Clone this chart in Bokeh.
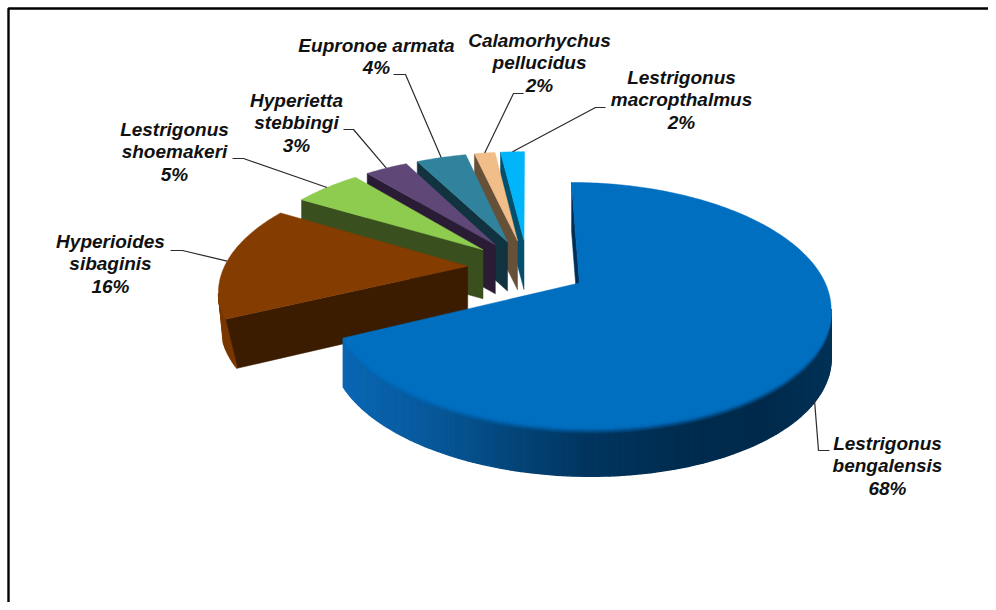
import math
from bokeh.plotting import figure
from bokeh.models import Range1d
from bokeh.core.properties import value
from bokeh.embed import file_html
from bokeh.resources import INLINE

# ---- chart data -------------------------------------------------------
species = ["Lestrigonus bengalensis", "Hyperioides sibaginis", "Lestrigonus shoemakeri",
           "Hyperietta stebbingi", "Eupronoe armata", "Calamorhychus pellucidus",
           "Lestrigonus macropthalmus"]
label_lines = [["Lestrigonus", "bengalensis"], ["Hyperioides", "sibaginis"],
               ["Lestrigonus", "shoemakeri"], ["Hyperietta", "stebbingi"],
               ["Eupronoe armata"], ["Calamorhychus", "pellucidus"],
               ["Lestrigonus", "macropthalmus"]]
# shares; the printed labels are these values rounded
percent = [67.94, 15.55, 5.4, 3.45, 4.05, 1.67, 1.94]

# ---- styles / layout ---------------------------------------------------
top_col = ["#006fc0", "#843c00", "#8dcc4f", "#5f4878", "#31829c", "#f1bd88", "#00b5fa"]
wall_col = ["#00305a", "#3b1c00", "#3a4f1e", "#2a1c35", "#11333f", "#665038", "#034f6c"]
radius_factor = [1.0, 1.015, 1.0, 1.0, 1.0, 1.0, 1.0]
blue_stops = [(345, "#0a66b2"), (420, "#085a9e"), (500, "#04487e"), (580, "#013661"),
              (680, "#002c4f"), (760, "#002a4b"), (835, "#003257")]
label_cx = [887, 110, 174, 296, 376, 539, 681]
label_cy = [443, 241, 129, 100, 45, 40, 77]
line_h = 22.4
# label-side leader points (from the label outward)
leader_start = [[(829, 450), (818, 450)], [(170, 250), (182, 250)], [(232, 158), (243, 158)],
                [(343, 129), (353, 129)], [(393, 74), (405, 74)], [(523, 93), (513, 93)],
                [(605, 107), (595, 107)]]

CX, CY, R, K, D, EXPL, T = 527.0, 267.0, 240.0, 113.0, 0.175, 0.25, 49.0


def proj(U, V):
    s = 1.0 / (1.0 - D * V)
    return CX + R * U * s, CY + K * V * s


def rim_point(th, mid, f=1.0):
    U = EXPL * math.sin(mid) + f * math.sin(th)
    V = -EXPL * math.cos(mid) - f * math.cos(th)
    return proj(U, V)


def hex2rgb(h):
    return tuple(int(h[i:i + 2], 16) for i in (1, 3, 5))


def blend(a, b, f):
    ra, rb = hex2rgb(a), hex2rgb(b)
    return "#%02x%02x%02x" % tuple(round(x + (y - x) * f) for x, y in zip(ra, rb))


def blue_side(x):
    if x <= blue_stops[0][0]:
        return blue_stops[0][1]
    for (x0, c0), (x1, c1) in zip(blue_stops, blue_stops[1:]):
        if x <= x1:
            return blend(c0, c1, (x - x0) / (x1 - x0))
    return blue_stops[-1][1]


p = figure(width=988, height=602, x_range=Range1d(0, 988), y_range=Range1d(602, 0),
           toolbar_location=None, output_backend="svg", min_border=0)
p.axis.visible = False
p.grid.visible = False
p.outline_line_color = None
p.background_fill_color = "white"

# frame: top and left rules only
p.line([8, 8, 988], [602, 8, 8], line_color="black", line_width=2.4)

# slice angular limits
starts, acc = [], 0.0
for v in percent:
    starts.append(acc)
    acc += v
total = acc

# paint back to front: smallest back slices first, blue last
order = [6, 5, 4, 3, 2, 1, 0]
ends_pts = {}
for i in order:
    a0 = starts[i] / total * 2 * math.pi
    a1 = (starts[i] + percent[i]) / total * 2 * math.pi
    mid = (a0 + a1) / 2
    n = max(2, int(math.degrees(a1 - a0)))
    ths = [a0 + (a1 - a0) * j / n for j in range(n + 1)]
    ax, ay = proj(EXPL * math.sin(mid), -EXPL * math.cos(mid))
    arc = [rim_point(t, mid, radius_factor[i]) for t in ths]
    # rounding of the lower corner on the large side slice
    round_dx = 12.0 if i == 1 else 0.0
    # side wall along the starting edge of the slice
    sx, sy = arc[0]
    p.patch([ax, sx, sx + round_dx, ax], [ay, sy, sy + T, ay + T],
            fill_color=wall_col[i], line_color=wall_col[i], line_width=0.5)
    # outer rim: only the part of the arc that faces the viewer
    xs, ys, cs = [], [], []
    for j, ((x0, y0), (x1, y1)) in enumerate(zip(arc, arc[1:])):
        if x1 >= x0:
            continue
        xm = (x0 + x1) / 2
        c = blue_side(xm) if i == 0 else blend(top_col[i], wall_col[i], 0.15)
        xs.append([x0, x1, x1, x0])
        ys.append([y0, y1, y1 + T, y0 + T])
        cs.append(c)
    if i == 1:
        # rim of the brown slice: from its tip to its leftmost point, tapering inward
        xs, ys, cs = [], [], []
        jmin = min(range(len(arc)), key=lambda q: arc[q][0])
        for j in range(jmin):
            x0, y0 = arc[j]
            x1, y1 = arc[j + 1]
            d0 = round_dx * (0.4 + 0.6 * (1 - j / jmin))
            d1 = round_dx * (0.4 + 0.6 * (1 - (j + 1) / jmin))
            xs.append([x0, x1, x1 + d1, x0 + d0])
            ys.append([y0, y1, y1 + T, y0 + T])
            cs.append(blend(top_col[1], wall_col[1], 0.15))
    if xs:
        p.patches(xs, ys, fill_color=cs, line_color=cs, line_width=1.4)
    # soft bevel between rim and top face of the big slice
    if i == 0:
        bx, by, bc = [], [], []
        for step in range(5, -1, -1):
            for (x0, y0), (x1, y1) in zip(arc, arc[1:]):
                if x1 >= x0:
                    continue
                xm = (x0 + x1) / 2
                c = blend(top_col[0], blue_side(xm), step / 6)
                bx.append([x0, x1, x1, x0])
                by.append([y0 + step, y1 + step, y1 + step + 1.2, y0 + step + 1.2])
                bc.append(c)
        p.patches(bx, by, fill_color=bc, line_color=bc, line_width=0.5)
    # top face
    p.patch([ax] + [q[0] for q in arc], [ay] + [q[1] for q in arc],
            fill_color=top_col[i], line_color=top_col[i], line_width=0.5)
    # leader end: on the outer edge at the slice's mid angle
    ex, ey = rim_point(mid, mid, radius_factor[i])
    ends_pts[i] = (ex, ey + (T if i == 0 else 0))

# leaders and labels
tx, ty, tt = [], [], []
for i in range(len(species)):
    pts = leader_start[i] + [ends_pts[i]]
    p.line([q[0] for q in pts], [q[1] for q in pts], line_color="#2b2b2b", line_width=1.2)
    lines = label_lines[i] + ["%d%%" % round(percent[i])]
    for j, s in enumerate(lines):
        tx.append(label_cx[i])
        ty.append(label_cy[i] + j * line_h)
        tt.append(s)
p.text(tx, ty, text=tt, text_font=value("Liberation Sans"), text_font_style="bold italic",
       text_font_size="19px", text_color="#111111", text_align="center", text_baseline="middle")

open("out.html", "w").write(file_html(p, INLINE))
